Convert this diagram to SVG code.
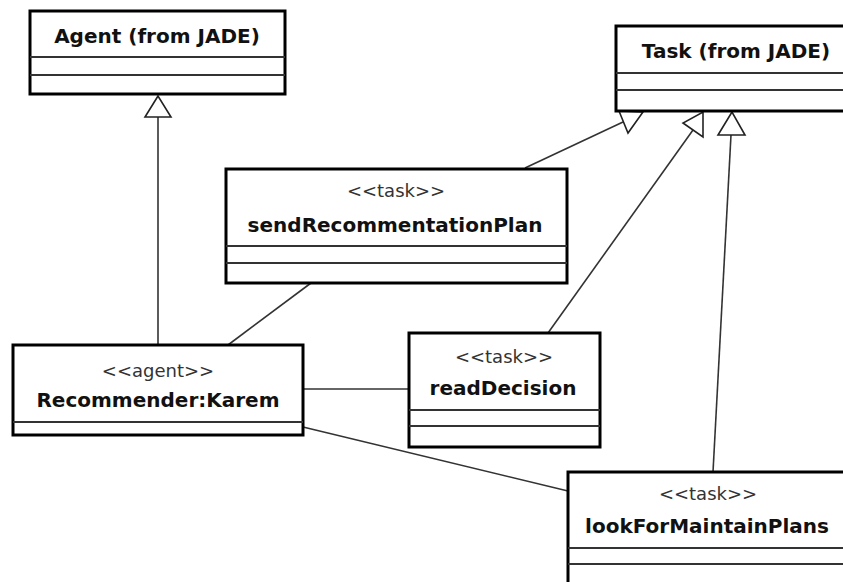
<svg xmlns="http://www.w3.org/2000/svg" width="843" height="582" viewBox="0 0 843 582">
<style>
.box{fill:#fff;stroke:#000;stroke-width:3}
.div{stroke:#333;stroke-width:2}
.name{font-family:"DejaVu Sans",sans-serif;font-weight:bold;font-size:20px;fill:#111;text-anchor:middle}
.st{font-family:"DejaVu Sans",sans-serif;font-size:18px;fill:#333;text-anchor:middle}
.ln{stroke:#333;stroke-width:1.6;fill:none}
.tri{fill:#fff;stroke:#222;stroke-width:1.6}
</style>
<rect width="843" height="582" fill="#fff"/>
<g id="connectors">
<line class="ln" x1="158" y1="117" x2="158" y2="345"/>
<polygon class="tri" points="158,96 145,117 171,117"/>
<line class="ln" x1="525" y1="168" x2="623" y2="122"/>
<polygon class="tri" points="619,111 628,133 643,112"/>
<line class="ln" x1="548" y1="333" x2="693" y2="130"/>
<polygon class="tri" points="683,123 703,137 703,112"/>
<line class="ln" x1="713" y1="472" x2="731" y2="135"/>
<polygon class="tri" points="732,112 718,135 745,135"/>
<line class="ln" x1="228" y1="345" x2="311" y2="283"/>
<line class="ln" x1="303" y1="389" x2="409" y2="389"/>
<line class="ln" x1="303" y1="427" x2="568" y2="491"/>
</g>
<g id="agent">
<rect class="box" x="30" y="11" width="255" height="83"/>
<line class="div" x1="30" y1="57" x2="285" y2="57"/>
<line class="div" x1="30" y1="75" x2="285" y2="75"/>
<text class="name" x="157" y="43">Agent (from JADE)</text>
</g>
<g id="task">
<rect class="box" x="616" y="26" width="240" height="85"/>
<line class="div" x1="616" y1="73" x2="856" y2="73"/>
<line class="div" x1="616" y1="90" x2="856" y2="90"/>
<text class="name" x="736" y="58">Task (from JADE)</text>
</g>
<g id="sendRecommentationPlan">
<rect class="box" x="226" y="169" width="341" height="114"/>
<line class="div" x1="226" y1="246" x2="567" y2="246"/>
<line class="div" x1="226" y1="263" x2="567" y2="263"/>
<text class="st" x="396" y="197">&lt;&lt;task&gt;&gt;</text>
<text class="name" x="395" y="232">sendRecommentationPlan</text>
</g>
<g id="recommender">
<rect class="box" x="13" y="345" width="290" height="90"/>
<line class="div" x1="13" y1="422" x2="303" y2="422"/>
<text class="st" x="158" y="377">&lt;&lt;agent&gt;&gt;</text>
<text class="name" x="158" y="407">Recommender:Karem</text>
</g>
<g id="readDecision">
<rect class="box" x="409" y="333" width="191" height="114"/>
<line class="div" x1="409" y1="410" x2="600" y2="410"/>
<line class="div" x1="409" y1="426" x2="600" y2="426"/>
<text class="st" x="504" y="363">&lt;&lt;task&gt;&gt;</text>
<text class="name" x="503" y="395">readDecision</text>
</g>
<g id="lookForMaintainPlans">
<rect class="box" x="568" y="472" width="280" height="130"/>
<line class="div" x1="568" y1="548" x2="848" y2="548"/>
<line class="div" x1="568" y1="564" x2="848" y2="564"/>
<text class="st" x="708" y="500">&lt;&lt;task&gt;&gt;</text>
<text class="name" x="707" y="533">lookForMaintainPlans</text>
</g>
</svg>
